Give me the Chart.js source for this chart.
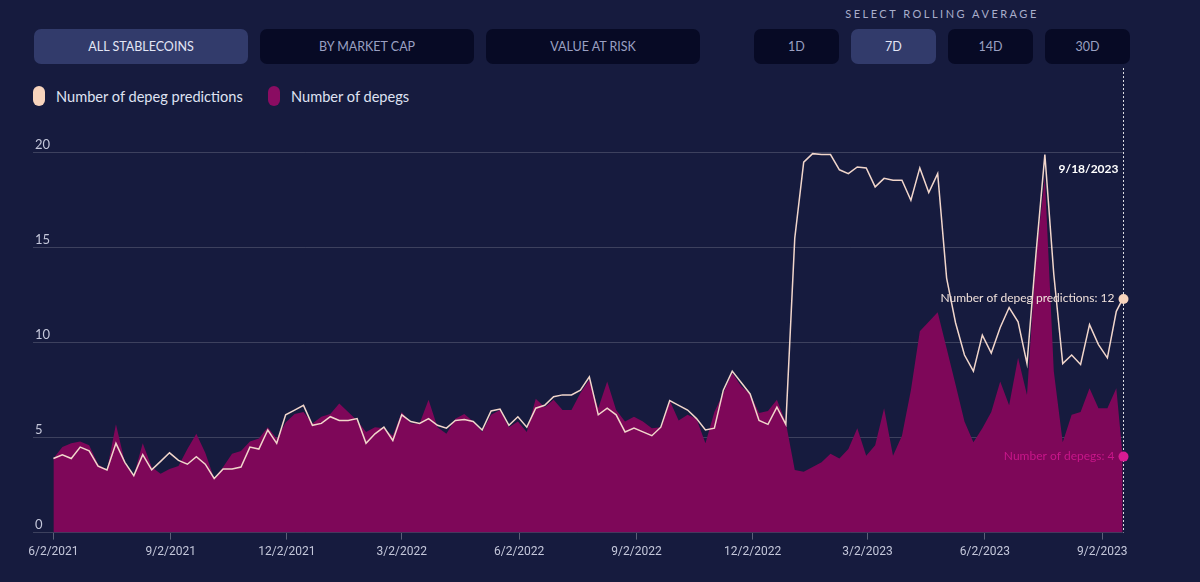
<!DOCTYPE html>
<html>
<head>
<meta charset="utf-8">
<script src="https://cdn.jsdelivr.net/npm/chart.js@4.4.0/dist/chart.umd.min.js"></script>
<style>
    html, body { margin: 0; padding: 0; }
    body {
        width: 1200px; height: 582px; position: relative; overflow: hidden;
        background: #161b3e;
        font-family: Lato, "Open Sans", sans-serif;
    }
    .btn {
        position: absolute; top: 29px; height: 35px; border-radius: 7px;
        background: #070a25; color: #9aa0c2; font-size: 12.5px;
        display: flex; align-items: center; justify-content: center;
    }
    .btn.activo { background: #323b6b; color: #e3e6f5; }
    .rolling {
        position: absolute; top: 7px; left: 754px; width: 376px; text-align: center;
        font-size: 11px; letter-spacing: 2.5px; color: #a9aecb;
    }
    .leyenda { position: absolute; top: 86px; display: flex; align-items: center; color: #dfe2f2; font-size: 14.6px; }
    .pastilla { width: 12px; height: 20px; border-radius: 6px; margin-right: 11px; }
    #grafico { position: absolute; left: 0; top: 68px; }
</style>
</head>
<body>

<div class="btn activo" style="left:34px;width:214px">ALL STABLECOINS</div>
<div class="btn" style="left:260px;width:214px">BY MARKET CAP</div>
<div class="btn" style="left:486px;width:214px">VALUE AT RISK</div>

<div class="rolling">SELECT ROLLING AVERAGE</div>
<div class="btn" style="left:754px;width:85px">1D</div>
<div class="btn activo" style="left:851px;width:85px">7D</div>
<div class="btn" style="left:948px;width:85px">14D</div>
<div class="btn" style="left:1045px;width:85px">30D</div>

<div class="leyenda" style="left:33px"><span class="pastilla" style="background:#f7d4bd"></span>Number of depeg predictions</div>
<div class="leyenda" style="left:268px"><span class="pastilla" style="background:#8a0c62"></span>Number of depegs</div>

<canvas id="grafico" width="1200" height="514"></canvas>

<script>
// ================== DATOS ==================

const FECHA_INICIO = "6/2/2021";
const FECHA_FIN = "9/18/2023";
const PASO_DIAS = 7;

// media móvil 7D, una muestra por semana (la última es el 9/18/2023)
const prediccionesDepeg = [
    3.9, 4.1, 3.9, 4.5, 4.3, 3.5, 3.3, 4.7, 3.7, 3.0,
    4.1, 3.3, 3.75, 4.2, 3.8, 3.6, 4.0, 3.6, 2.85, 3.35,
    3.35, 3.45, 4.5, 4.4, 5.4, 4.7, 6.2, 6.45, 6.7, 5.65,
    5.75, 6.1, 5.9, 5.9, 6.0, 4.7, 5.2, 5.55, 4.85, 6.2,
    5.85, 5.75, 6.0, 5.65, 5.5, 5.9, 5.95, 5.85, 5.4, 6.4,
    6.5, 5.65, 6.1, 5.55, 6.55, 6.7, 7.15, 7.25, 7.25, 7.5,
    8.2, 6.2, 6.55, 6.2, 5.3, 5.5, 5.3, 5.1, 5.55, 6.95,
    6.7, 6.45, 6.0, 5.4, 5.5, 7.5, 8.5, 7.9, 7.3, 5.9,
    5.7, 6.6, 5.7, 15.5, 19.5, 19.95, 19.9, 19.9, 19.1, 18.9,
    19.25, 19.2, 18.2, 18.65, 18.55, 18.55, 17.5, 19.2, 17.9, 18.9,
    13.4, 11.05, 9.35, 8.5, 10.4, 9.45, 10.8, 11.85, 11.1, 8.9,
    14.65, 19.9, 13.6, 8.9, 9.35, 8.85, 10.95, 9.9, 9.2, 11.65,
    12.3
];

const depegs = [
    3.9, 4.5, 4.7, 4.8, 4.6, 3.6, 3.3, 5.7, 3.7, 3.0,
    4.7, 3.45, 3.1, 3.35, 3.5, 4.4, 5.2, 4.2, 2.85, 3.45,
    4.15, 4.3, 4.8, 4.95, 5.55, 4.95, 5.8, 6.25, 6.35, 5.75,
    6.1, 6.25, 6.8, 6.35, 5.9, 5.3, 5.55, 5.5, 5.1, 6.35,
    5.75, 5.75, 7.0, 5.55, 5.2, 6.0, 6.25, 5.85, 5.3, 6.2,
    6.45, 5.55, 5.85, 5.3, 7.05, 6.6, 7.0, 6.45, 6.45, 7.35,
    8.05, 6.55, 7.95, 6.45, 5.85, 6.1, 5.85, 5.5, 5.55, 6.95,
    5.9, 6.2, 6.0, 4.7, 6.35, 7.35, 8.4, 7.7, 7.3, 6.3,
    6.4, 7.0, 5.8, 3.3, 3.2, 3.45, 3.7, 4.15, 3.9, 4.4,
    5.5, 4.05, 4.6, 6.55, 4.05, 5.1, 7.5, 10.6, 11.1, 11.6,
    9.7, 7.8, 5.85, 4.75, 5.5, 6.35, 7.95, 6.7, 9.2, 7.25,
    14.5, 18.7, 8.5, 4.75, 6.2, 6.35, 7.6, 6.55, 6.55, 7.6,
    4.0
];

const etiquetasX = ["6/2/2021", "9/2/2021", "12/2/2021", "3/2/2022", "6/2/2022",
    "9/2/2022", "12/2/2022", "3/2/2023", "6/2/2023", "9/2/2023"];
const ticksY = [0, 5, 10, 15, 20];

// ================== UTILIDADES ==================

function diaDesdeInicio(fecha) {
    const [m, d, a] = fecha.split("/").map(Number);
    const [m0, d0, a0] = FECHA_INICIO.split("/").map(Number);
    return (Date.UTC(a, m - 1, d) - Date.UTC(a0, m0 - 1, d0)) / 864e5;
}

const diaFin = diaDesdeInicio(FECHA_FIN);
const diasDatos = prediccionesDepeg.map((_, i) =>
    i < prediccionesDepeg.length - 1 ? i * PASO_DIAS : diaFin);
const diasTicks = etiquetasX.map(diaDesdeInicio);

// ================== MARCADOR (tooltip fijo del último día) ==================

const marcadorFinal = {
    id: "marcadorFinal",
    afterDatasetsDraw(chart) {
        const { ctx, chartArea, scales: { x, y } } = chart;
        const i = diasDatos.length - 1;
        const px = Math.round(x.getPixelForValue(diasDatos[i])) + 0.5;
        const yPred = y.getPixelForValue(prediccionesDepeg[i]);
        const yDep = y.getPixelForValue(depegs[i]);

        ctx.save();
        ctx.strokeStyle = "rgba(255,255,255,0.85)";
        ctx.lineWidth = 1;
        ctx.setLineDash([2, 2]);
        ctx.beginPath();
        ctx.moveTo(px, 0);
        ctx.lineTo(px, chartArea.bottom);
        ctx.stroke();
        ctx.setLineDash([]);

        ctx.textAlign = "right";
        ctx.textBaseline = "middle";
        ctx.font = "bold 12px Lato, 'Open Sans', sans-serif";
        ctx.fillStyle = "#ffffff";
        ctx.fillText(FECHA_FIN, px - 5, y.getPixelForValue(20) + 16);

        ctx.font = "12px Lato, 'Open Sans', sans-serif";
        ctx.fillStyle = "#efe0da";
        ctx.fillText("Number of depeg predictions: " + Math.round(prediccionesDepeg[i]), px - 9, yPred - 1);
        ctx.fillStyle = "#c8168a";
        ctx.fillText("Number of depegs: " + Math.round(depegs[i]), px - 9, yDep);

        ctx.fillStyle = "#f7d4bd";
        ctx.beginPath();
        ctx.arc(px, yPred, 5, 0, Math.PI * 2);
        ctx.fill();
        ctx.fillStyle = "#d81b93";
        ctx.beginPath();
        ctx.arc(px, yDep, 5, 0, Math.PI * 2);
        ctx.fill();
        ctx.restore();
    }
};

// ================== GRÁFICO ==================

const ctx = document.getElementById("grafico");

new Chart(ctx, {
    type: "line",
    data: {
        datasets: [
            {
                label: "Number of depeg predictions",
                data: diasDatos.map((d, i) => ({ x: d, y: prediccionesDepeg[i] })),
                borderColor: "#f1d6cb",
                borderWidth: 1.5,
                pointRadius: 0,
                fill: false,
                tension: 0,
                order: 1
            },
            {
                label: "Number of depegs",
                data: diasDatos.map((d, i) => ({ x: d, y: depegs[i] })),
                borderWidth: 0,
                backgroundColor: "#7e0759",
                pointRadius: 0,
                fill: "origin",
                tension: 0,
                order: 2
            }
        ]
    },
    options: {
        responsive: false,
        animation: false,
        events: [],
        layout: { padding: { left: 29, right: 77.3, top: 65.7, bottom: 18 } },
        plugins: {
            legend: { display: false },
            tooltip: { enabled: false }
        },
        scales: {
            x: {
                type: "linear",
                min: -16,
                max: diaFin,
                afterBuildTicks: scale => {
                    scale.ticks = diasTicks.map(v => ({ value: v }));
                },
                ticks: {
                    autoSkip: false,
                    maxRotation: 0,
                    padding: 5,
                    color: "#c4c7da",
                    font: { family: "Roboto, sans-serif", size: 12 },
                    callback: (v, i) => etiquetasX[i]
                },
                grid: {
                    drawOnChartArea: false,
                    tickLength: 7,
                    color: "rgba(255,255,255,0.3)"
                },
                border: { display: false }
            },
            y: {
                min: 0,
                max: 21,
                afterBuildTicks: scale => {
                    scale.ticks = ticksY.map(v => ({ value: v }));
                },
                ticks: {
                    mirror: true,
                    padding: 2,
                    labelOffset: -8,
                    color: "#c4c7da",
                    font: { family: "Lato, 'Open Sans', sans-serif", size: 13 }
                },
                grid: {
                    drawTicks: false,
                    color: "rgba(255,255,255,0.17)"
                },
                border: { display: false }
            }
        }
    },
    plugins: [marcadorFinal]
});
</script>
</body>
</html>
